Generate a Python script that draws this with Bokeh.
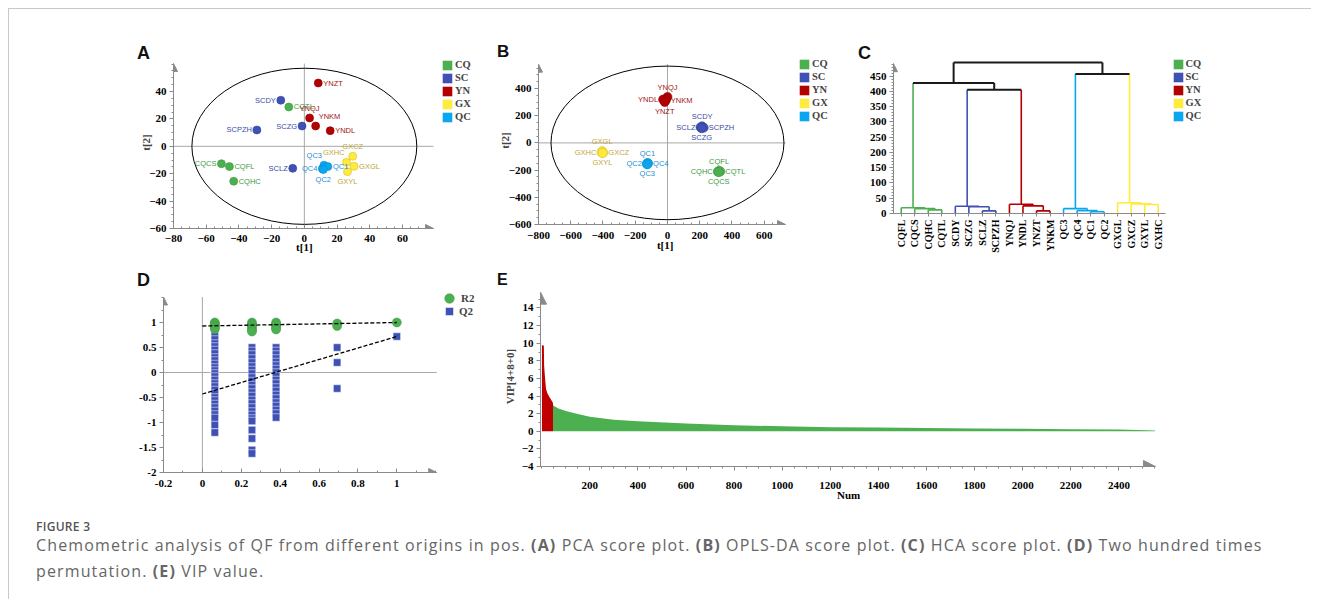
import math
from bokeh.plotting import figure
from bokeh.models import (Range1d, Arrow, NormalHead, Legend, LegendItem, LinearAxis,
                          FixedTicker, Div, ColumnDataSource, PrintfTickFormatter)
from bokeh.layouts import row, column
from bokeh.embed import file_html
from bokeh.resources import INLINE
from bokeh.core.properties import value

SERIF = "Liberation Serif"
SANS = "Liberation Sans"
AXIS_GREY = "#8a8a8a"
CROSS_GREY = "#a8a8a8"
NAN = float("nan")

# ---------------- data ----------------
GROUPS = ["CQ", "SC", "YN", "GX", "QC"]
FILL = {"CQ": "#4CAF50", "SC": "#3F51B5", "YN": "#B30000", "GX": "#FFEB3B", "QC": "#0AA6F0"}
TEXTC = {"CQ": "#3E9B42", "SC": "#3A4BA8", "YN": "#A31515", "GX": "#BFA73A", "QC": "#1D8FD6"}
EDGE = {"CQ": "#3E9B42", "SC": "#34449A", "YN": "#8E0000", "GX": "#D8C030", "QC": "#0A8FD0"}

# (A) PCA scores
pca_names = ["YNZT", "SCDY", "CQTL", "YNQJ", "SCPZH", "SCZG", "YNKM", "YNDL", "CQCS", "CQFL",
             "CQHC", "SCLZ", "QC3", "QC4", "QC1", "QC2", "GXHC", "GXCZ", "GXGL", "GXYL"]
pca_t1 = [8.5, -14.4, -9.5, 3.2, -29.0, -1.4, 6.9, 15.8, -50.7, -45.8,
          -43.2, -7.1, 12.0, 11.0, 14.4, 11.6, 25.8, 29.6, 30.4, 26.4]
pca_t2 = [46.2, 33.6, 28.7, 20.7, 11.9, 14.8, 14.8, 11.4, -12.7, -14.8,
          -25.5, -16.1, -13.8, -16.3, -14.8, -17.0, -11.7, -7.3, -14.6, -18.5]
pca_lab = ["r", "l", "r", "a", "l", "l", "ar", "r", "l", "r",
           "r", "l", "al", "l", "r", "b", "al", "a", "r", "b"]

# (B) OPLS-DA scores
opls_names = ["YNQJ", "YNDL", "YNKM", "YNZT", "SCDY", "SCLZ", "SCPZH", "SCZG",
              "GXGL", "GXHC", "GXCZ", "GXYL", "QC1", "QC2", "QC4", "QC3",
              "CQFL", "CQHC", "CQTL", "CQCS"]
opls_t1 = [0, -27, -10, -17, 215, 205, 225, 212,
           -405, -410, -398, -403, -124, -128, -120, -125,
           320, 312, 328, 318]
opls_t2 = [338, 319, 314, 301, 122, 115, 112, 108,
           -60, -70, -72, -75, -148, -155, -150, -158,
           -205, -212, -210, -215]
opls_lab = ["a", "l", "r", "b"] * 5

# (C) HCA dendrogram
leaves = ["CQFL", "CQCS", "CQHC", "CQTL", "SCDY", "SCZG", "SCLZ", "SCPZH", "YNQJ", "YNDL",
          "YNZT", "YNKM", "QC3", "QC4", "QC1", "QC2", "GXGL", "GXCZ", "GXYL", "GXHC"]
merge_left = [2, 1, 0, 6, 5, 4, 10, 9, 8, 14, 13, 12, 18, 17, 16, 25, 22, 31, 36]
merge_right = [3, 20, 21, 7, 23, 24, 11, 26, 27, 15, 29, 30, 19, 32, 33, 28, 35, 34, 37]
merge_height = [12, 16, 19, 8.7, 22, 24, 8.7, 25, 30.5, 5.5, 9.5, 16, 29.5, 31.7, 35,
                406, 428, 457, 495]
merge_group = ["CQ", "CQ", "CQ", "SC", "SC", "SC", "YN", "YN", "YN", "QC", "QC", "QC",
               "GX", "GX", "GX", None, None, None, None]

# (D) permutation test (200 times)
r2_x = [0.064] * 6 + [0.255] * 6 + [0.379] * 5 + [0.693] * 2 + [1.0]
r2_y = [1.0, 0.98, 0.96, 0.93, 0.9, 0.87,
        1.0, 0.97, 0.93, 0.89, 0.85, 0.82,
        1.0, 0.97, 0.93, 0.89, 0.86,
        0.98, 0.93,
        1.0]
q2_col1 = [0.78, 0.72, 0.66, 0.58, 0.52, 0.45, 0.38, 0.3, 0.24, 0.17, 0.1, 0.04, -0.02, -0.08,
           -0.15, -0.22, -0.28, -0.35, -0.42, -0.5, -0.56, -0.63, -0.7, -0.77, -0.84, -0.91,
           -1.05, -1.2]
q2_col2 = [0.5, 0.43, 0.36, 0.28, 0.2, 0.12, 0.05, -0.02, -0.1, -0.17, -0.25, -0.32, -0.4,
           -0.47, -0.55, -0.62, -0.7, -0.78, -0.85, -0.92, -0.97, -1.15, -1.32, -1.55, -1.62]
q2_col3 = [0.5, 0.43, 0.36, 0.28, 0.21, 0.14, 0.07, 0.0, -0.07, -0.15, -0.22, -0.3, -0.37,
           -0.45, -0.52, -0.6, -0.67, -0.75, -0.82, -0.9]
q2_col4 = [0.5, 0.2, -0.32]
q2_orig = [0.72]
q2_colx = [0.064, 0.255, 0.379, 0.693, 1.0]
r2_fit_x = [0, 1]
r2_fit_y = [0.93, 1.0]
q2_fit_x = [0, 1]
q2_fit_y = [-0.43, 0.72]

# (E) VIP values
vip_red_num = [1, 9, 10, 14, 18, 24, 32, 41, 47]
vip_red_val = [9.8, 9.7, 7.5, 6.0, 4.8, 4.3, 3.9, 3.5, 3.2]
vip_green_num = [47, 55, 70, 100, 150, 200, 300, 400, 600, 800, 1000, 1200, 1400, 1600,
                 1800, 2000, 2200, 2400, 2550]
vip_green_val = [2.95, 2.8, 2.6, 2.3, 1.95, 1.65, 1.32, 1.13, 0.87, 0.68, 0.57, 0.47, 0.42,
                 0.37, 0.32, 0.28, 0.24, 0.19, 0.1]

# ---------------- helpers ----------------
LABPOS = {"r": (5, 0, "left", "middle"), "l": (-5, 0, "right", "middle"),
          "a": (0, -5, "center", "bottom"), "b": (0, 5, "center", "top"),
          "al": (-2, -5, "right", "bottom"), "ar": (3, -5, "left", "bottom")}


def style_axis(ax):
    ax.axis_line_color = AXIS_GREY
    ax.major_tick_line_color = AXIS_GREY
    ax.minor_tick_line_color = AXIS_GREY
    ax.major_tick_out = 4
    ax.major_tick_in = 0
    ax.minor_tick_out = 2
    ax.minor_tick_in = 0
    ax.major_label_text_font = SERIF
    ax.major_label_text_font_style = "bold"
    ax.major_label_text_font_size = "11px"
    ax.major_label_text_color = "black"
    ax.major_label_standoff = 3
    ax.axis_label_text_font = SERIF
    ax.axis_label_text_font_style = "bold"
    ax.axis_label_text_font_size = "11px"
    ax.axis_label_standoff = 3


def base_fig(fw, fh, xr, yr, left, bottom):
    p = figure(frame_width=fw, frame_height=fh, x_range=Range1d(*xr), y_range=Range1d(*yr),
               min_border_left=left, min_border_right=0, min_border_top=0,
               min_border_bottom=bottom, output_backend="svg", toolbar_location=None)
    p.grid.visible = False
    p.outline_line_color = None
    p.background_fill_color = None
    p.border_fill_color = None
    for ax in p.axis:
        style_axis(ax)
    return p


def x_title_axis(p, pos, text, standoff):
    """A second, line-less bottom axis whose single tick label is the x-axis title."""
    ax = LinearAxis(ticker=FixedTicker(ticks=[pos], minor_ticks=[]))
    style_axis(ax)
    ax.axis_line_color = None
    ax.major_tick_line_color = None
    ax.minor_tick_line_color = None
    ax.major_tick_out = 0
    ax.major_label_standoff = standoff
    ax.major_label_overrides = {pos: text}
    p.add_layout(ax, "below")


def add_arrows(p, bx, by, size=8, xa=True, ya=True):
    if xa:
        p.add_layout(Arrow(end=NormalHead(size=size, fill_color=AXIS_GREY, line_color=AXIS_GREY),
                           x_start=bx[0], y_start=by[0], x_end=bx[1], y_end=by[0],
                           line_color=AXIS_GREY, line_width=1))
    if ya:
        p.add_layout(Arrow(end=NormalHead(size=size, fill_color=AXIS_GREY, line_color=AXIS_GREY),
                           x_start=bx[0], y_start=by[0], x_end=bx[0], y_end=by[1],
                           line_color=AXIS_GREY, line_width=1))


def crosshair(p, bx, by):
    p.segment(x0=[0, bx[0]], y0=[by[0], 0], x1=[0, bx[1]], y1=[by[1], 0],
              line_color=CROSS_GREY, line_width=1)


def group_legend(p, x_off, vy):
    items = []
    for g in GROUPS:
        r = p.quad(left=[NAN], right=[NAN], top=[NAN], bottom=[NAN],
                   fill_color=FILL[g], line_color=None)
        items.append(LegendItem(label=g, renderers=[r]))
    leg = Legend(items=items, location=(x_off, vy), glyph_width=12, glyph_height=12,
                 label_height=13, spacing=0, padding=0, margin=0, border_line_color=None,
                 background_fill_alpha=0, label_text_font=SERIF, label_text_font_style="bold",
                 label_text_font_size="10.5px", label_standoff=2)
    p.add_layout(leg)


def score_points(p, names, xs, ys, labs, size):
    groups = [n[:2] for n in names]
    src = ColumnDataSource(dict(
        x=xs, y=ys, name=names,
        fill=[FILL[g] for g in groups], edge=[EDGE[g] for g in groups],
        tc=[TEXTC[g] for g in groups],
        dx=[LABPOS[k][0] for k in labs], dy=[LABPOS[k][1] for k in labs],
        al=[LABPOS[k][2] for k in labs], bl=[LABPOS[k][3] for k in labs]))
    p.scatter("x", "y", size=size, fill_color="fill", line_color="edge", line_width=0.6, source=src)
    p.text("x", "y", text="name", x_offset="dx", y_offset="dy", text_align="al",
           text_baseline="bl", text_color="tc", text_font=value(SANS),
           text_font_size=value("7.5px"), source=src)


def ticks_inside(ax, standoff):
    ax.major_tick_out = 0
    ax.major_tick_in = 4
    ax.minor_tick_out = 0
    ax.minor_tick_in = 2
    ax.major_label_standoff = standoff


# ---------------- (A) PCA ----------------
bxA, byA = (-80, 79), (-60, 60.4)
pA = base_fig(307, 172, (-80, 107.7), (-60, 65.55), 164, 38)
pA.xaxis.bounds = bxA
pA.yaxis.bounds = byA
pA.xaxis.ticker = FixedTicker(ticks=list(range(-80, 61, 20)), minor_ticks=list(range(-80, 80, 5)))
pA.yaxis.ticker = FixedTicker(ticks=list(range(-60, 41, 20)), minor_ticks=list(range(-60, 61, 5)))
ticks_inside(pA.xaxis[0], 6)
pA.yaxis.axis_label = "t[2]"
pA.yaxis.axis_label_standoff = -6
x_title_axis(pA, 0, "t[1]", -4)
crosshair(pA, bxA, byA)
pA.ellipse(x=0, y=0, width=137.5, height=114, fill_color=None, line_color="black", line_width=1)
add_arrows(pA, bxA, byA)
score_points(pA, pca_names, pca_t1, pca_t2, pca_lab, 8)
group_legend(pA, 268, 105)

# ---------------- (B) OPLS-DA ----------------
bxB, byB = (-800, 732), (-600, 579)
pB = base_fig(297, 168, (-800, 1042.3), (-600, 635.3), 58, 42)
pB.xaxis.bounds = bxB
pB.yaxis.bounds = byB
pB.xaxis.ticker = FixedTicker(ticks=list(range(-800, 601, 200)), minor_ticks=list(range(-800, 731, 50)))
pB.yaxis.ticker = FixedTicker(ticks=list(range(-600, 401, 200)), minor_ticks=list(range(-600, 579, 50)))
ticks_inside(pB.xaxis[0], 7)
pB.yaxis.axis_label = "t[2]"
pB.yaxis.axis_label_standoff = -5
x_title_axis(pB, -14, "t[1]", -3)
crosshair(pB, bxB, byB)
pB.ellipse(x=0, y=0, width=1445, height=1130, fill_color=None, line_color="black", line_width=1)
add_arrows(pB, bxB, byB)
score_points(pB, opls_names, opls_t1, opls_t2, opls_lab, 9)
group_legend(pB, 260, 102)

# ---------------- (C) HCA ----------------
bxC, byC = (-0.57, 19.5), (0, 491)
pC = base_fig(352, 157, (-0.57, 25.45), (0, 514.6), 58, 53)
pC.xaxis.bounds = bxC
pC.yaxis.bounds = byC
pC.yaxis.ticker = FixedTicker(ticks=list(range(0, 451, 50)), minor_ticks=list(range(0, 491, 10)))
pC.xaxis.ticker = FixedTicker(ticks=list(range(len(leaves))), minor_ticks=[])
pC.xaxis.major_label_overrides = {i: n for i, n in enumerate(leaves)}
pC.xaxis.major_label_orientation = math.pi / 2
pC.xaxis.major_label_text_font_size = "10px"
pC.xaxis.major_tick_out = 3
add_arrows(pC, bxC, byC, xa=False)

node_x = [float(i) for i in range(len(leaves))]
node_h = [0.0] * len(leaves)
node_c = [FILL[n[:2]] for n in leaves]
seg_x, seg_y, seg_c, seg_w = [], [], [], []
for a, b, h, g in zip(merge_left, merge_right, merge_height, merge_group):
    col = FILL[g] if g else "#1a1a1a"
    for ch in (a, b):
        seg_x.append([node_x[ch], node_x[ch]])
        seg_y.append([node_h[ch], h])
        seg_c.append(node_c[ch])
        seg_w.append(1.6 if node_c[ch] != "#1a1a1a" else 2.0)
    seg_x.append([node_x[a], node_x[b]])
    seg_y.append([h, h])
    seg_c.append(col)
    seg_w.append(1.6 if g else 2.0)
    node_x.append((node_x[a] + node_x[b]) / 2)
    node_h.append(h)
    node_c.append(col)
pC.multi_line(xs=seg_x, ys=seg_y, line_color=seg_c, line_width=seg_w)
group_legend(pC, 278.5, 91)

# ---------------- (D) permutation ----------------
bxD, byD = (-0.2, 1.205), (-2, 1.51)
pD = base_fig(315, 186, (-0.2, 1.42), (-2, 1.72), 154, 43)
pD.xaxis.bounds = bxD
pD.yaxis.bounds = byD
pD.xaxis.ticker = FixedTicker(ticks=[-0.2, 0, 0.2, 0.4, 0.6, 0.8, 1],
                              minor_ticks=[-0.2, -0.1, 0, 0.1, 0.2, 0.3, 0.4, 0.5, 0.6, 0.7, 0.8, 0.9, 1, 1.1, 1.2])
pD.yaxis.ticker = FixedTicker(ticks=[-2, -1.5, -1, -0.5, 0, 0.5, 1],
                              minor_ticks=[-2, -1.75, -1.5, -1.25, -1, -0.75, -0.5, -0.25, 0, 0.25, 0.5, 0.75, 1, 1.25, 1.5])
pD.xaxis.formatter = PrintfTickFormatter(format="%g")
pD.yaxis.formatter = PrintfTickFormatter(format="%g")
ticks_inside(pD.xaxis[0], 7)
crosshair(pD, bxD, byD)
add_arrows(pD, bxD, byD)
q2_x, q2_y = [], []
for cx, col in zip(q2_colx, [q2_col1, q2_col2, q2_col3, q2_col4, q2_orig]):
    q2_x += [cx] * len(col)
    q2_y += col
rq = pD.scatter(q2_x, q2_y, marker="square", size=7.5, fill_color="#3F51B5", line_color="white", line_width=0.5)
rr = pD.scatter(r2_x, r2_y, marker="circle", size=9, fill_color="#4CAF50", line_color="#3E9B42", line_width=0.5)
pD.line(r2_fit_x, r2_fit_y, line_color="black", line_dash="4 2", line_width=1.3)
pD.line(q2_fit_x, q2_fit_y, line_color="black", line_dash="4 2", line_width=1.3)
for rend, lab, loc, gs, so in [(rr, "R2", (274, 162), 24, -13), (rq, "Q2", (276, 151), 20, -11)]:
    pD.add_layout(Legend(items=[LegendItem(label=lab, renderers=[rend])], location=loc,
                         glyph_width=gs, glyph_height=gs, label_height=gs, spacing=0, padding=0,
                         margin=0, border_line_color=None, background_fill_alpha=0,
                         label_text_font=SERIF, label_text_font_style="bold",
                         label_text_font_size="11px", label_standoff=so))

# ---------------- (E) VIP ----------------
bxE, byE = (-5, 2552), (-4, 15.8)
pE = base_fig(650, 180, (-5, 2697.7), (-4, 16.44), 62, 49)
pE.xaxis.bounds = bxE
pE.yaxis.bounds = byE
pE.xaxis.ticker = FixedTicker(ticks=list(range(200, 2401, 200)), minor_ticks=list(range(0, 2551, 50)))
pE.yaxis.ticker = FixedTicker(ticks=list(range(-4, 15, 2)), minor_ticks=list(range(-4, 16, 1)))
pE.yaxis.axis_label = "VIP[4+8+0]"
pE.xaxis.major_label_standoff = 11
x_title_axis(pE, 1276, "Num", -3)
add_arrows(pE, bxE, byE, size=12)
pE.varea(x=vip_green_num, y1=0, y2=vip_green_val, fill_color="#4CAF50")
pE.varea(x=vip_red_num, y1=0, y2=vip_red_val, fill_color="#C00000")

# ---------------- letters, caption & page ----------------
LET = "position:absolute; font-family:'Liberation Sans',Arial,sans-serif; font-weight:bold; color:#111;"
letters_top = Div(width=1302, height=47, margin=0, text=(
    "<div style='position:relative; width:1302px; height:47px;'>"
    f"<span style=\"{LET} left:128px; top:35px; font-size:18px; line-height:18px;\">A</span>"
    f"<span style=\"{LET} left:488px; top:34px; font-size:17px; line-height:17px;\">B</span>"
    f"<span style=\"{LET} left:849px; top:35px; font-size:18px; line-height:18px;\">C</span>"
    "</div>"), styles={"overflow": "visible", "z-index": "2"})
letters_mid = Div(width=1302, height=20, margin=0, text=(
    "<div style='position:relative; width:1302px; height:20px;'>"
    f"<span style=\"{LET} left:128px; top:5px; font-size:18px; line-height:18px;\">D</span>"
    f"<span style=\"{LET} left:488px; top:6px; font-size:16px; line-height:16px;\">E</span>"
    "</div>"), styles={"overflow": "visible", "z-index": "2"})

caption_html = (
    "<div style=\"font-family:'Open Sans',sans-serif; padding-left:27px; white-space:nowrap; margin-top:5px;\">"
    "<div style='font-size:12px; font-weight:600; color:#555; line-height:14px; letter-spacing:0.3px;'>FIGURE 3</div>"
    "<div style='font-size:16px; line-height:26px; color:#666; letter-spacing:1.13px; margin-top:-2px;'>"
    "Chemometric analysis of QF from different origins in pos. <b>(A)</b> PCA score plot. "
    "<b>(B)</b> OPLS-DA score plot. <b>(C)</b> HCA score plot. <b>(D)</b> Two hundred times<br>"
    "permutation. <b>(E)</b> VIP value.</div></div>")
caption = Div(text=caption_html, width=1302, height=84, margin=0)
top_line = Div(width=1302, height=1, margin=0, styles={"background-color": "#c8c8c8"})
left_line = Div(width=1, height=591, margin=0, styles={"background-color": "#c8c8c8"})

content = column(top_line, letters_top, row(pA, pB, pC), letters_mid, row(pD, pE), caption)
layout = row(left_line, content, margin=(8, 0, 0, 8))

open("out.html", "w").write(file_html(layout, INLINE, title="Figure 3"))
